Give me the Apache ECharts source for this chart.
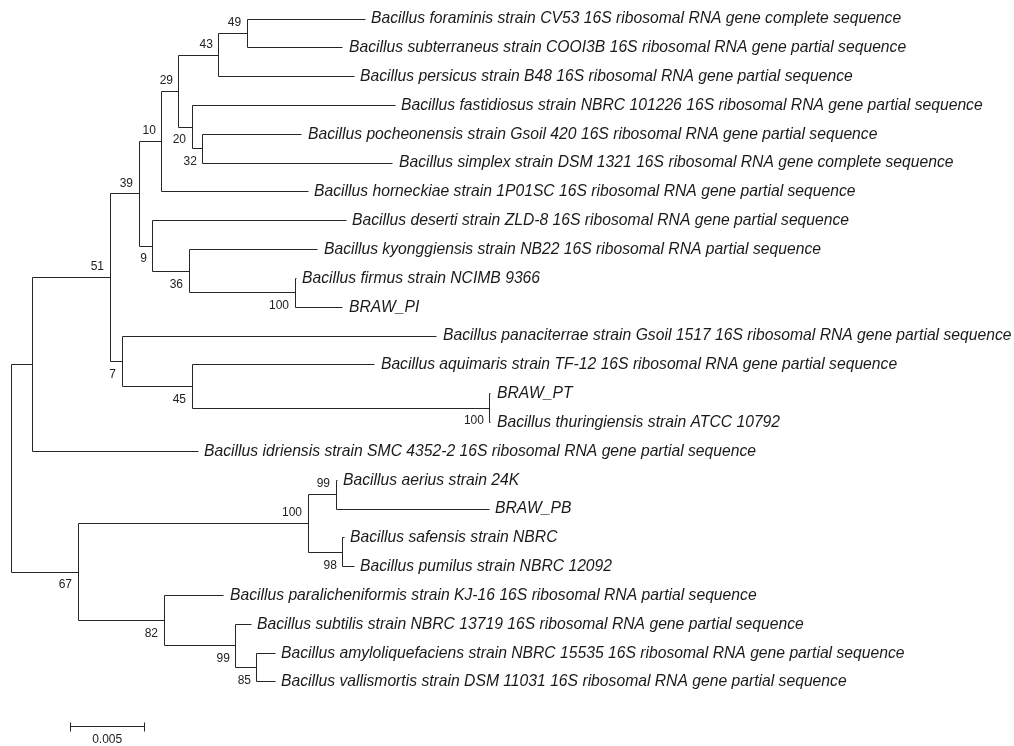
<!DOCTYPE html>
<html>
<head>
<meta charset="utf-8">
<title>Phylogenetic tree</title>
<script src="https://cdn.jsdelivr.net/npm/echarts@6/dist/echarts.min.js"></script>
<style>
html,body{margin:0;padding:0;background:#fff;}
#chart{width:1014px;height:746px;}
</style>
</head>
<body>
<div id="chart"></div>
<script>
// leaf labels, top to bottom
var leafNames = [
  'Bacillus foraminis strain CV53 16S ribosomal RNA gene complete sequence',
  'Bacillus subterraneus strain COOI3B 16S ribosomal RNA gene partial sequence',
  'Bacillus persicus strain B48 16S ribosomal RNA gene partial sequence',
  'Bacillus fastidiosus strain NBRC 101226 16S ribosomal RNA gene partial sequence',
  'Bacillus pocheonensis strain Gsoil 420 16S ribosomal RNA gene partial sequence',
  'Bacillus simplex strain DSM 1321 16S ribosomal RNA gene complete sequence',
  'Bacillus horneckiae strain 1P01SC 16S ribosomal RNA gene partial sequence',
  'Bacillus deserti strain ZLD-8 16S ribosomal RNA gene partial sequence',
  'Bacillus kyonggiensis strain NB22 16S ribosomal RNA partial sequence',
  'Bacillus firmus strain NCIMB 9366',
  'BRAW_PI',
  'Bacillus panaciterrae strain Gsoil 1517 16S ribosomal RNA gene partial sequence',
  'Bacillus aquimaris strain TF-12 16S ribosomal RNA gene partial sequence',
  'BRAW_PT',
  'Bacillus thuringiensis strain ATCC 10792',
  'Bacillus idriensis strain SMC 4352-2 16S ribosomal RNA gene partial sequence',
  'Bacillus aerius strain 24K',
  'BRAW_PB',
  'Bacillus safensis strain NBRC',
  'Bacillus pumilus strain NBRC 12092',
  'Bacillus paralicheniformis strain KJ-16 16S ribosomal RNA partial sequence',
  'Bacillus subtilis strain NBRC 13719 16S ribosomal RNA gene partial sequence',
  'Bacillus amyloliquefaciens strain NBRC 15535 16S ribosomal RNA gene partial sequence',
  'Bacillus vallismortis strain DSM 11031 16S ribosomal RNA gene partial sequence'
];
// distance from root to each tip
var leafDepth = [
  0.02392, 0.02243, 0.02318, 0.02595, 0.01966, 0.02581, 0.02007, 0.02264,
  0.02074, 0.01926, 0.02243, 0.02878, 0.02459, 0.03243, 0.03243, 0.01264,
  0.02203, 0.0323, 0.0225, 0.02318, 0.01439, 0.01622, 0.01784, 0.01784
];
// internal nodes: distance from root, children (L = leaf, N = node), bootstrap
var nodeDepth = [
  0, 0.00142, 0.00669, 0.00865, 0.0102, 0.01135, 0.01405, 0.01595,
  0.01223, 0.01297, 0.00959, 0.01203, 0.01919, 0.0075, 0.01223, 0.03236,
  0.00453, 0.02007, 0.02196, 0.02243, 0.01034, 0.0152, 0.01662
];
var nodeKids = [
  ['N1','N16'], ['N2','L15'], ['N3','N13'], ['N4','N10'], ['N5','L6'], ['N6','N8'],
  ['N7','L2'], ['L0','L1'], ['L3','N9'], ['L4','L5'], ['L7','N11'], ['L8','N12'],
  ['L9','L10'], ['L11','N14'], ['L12','N15'], ['L13','L14'], ['N17','N20'],
  ['N18','N19'], ['L16','L17'], ['L18','L19'], ['L20','N21'], ['L21','N22'], ['L22','L23']
];
var nodeSupport = [
  '', '', '51', '39', '10', '29', '43', '49', '20', '32', '9', '36',
  '100', '7', '45', '100', '67', '100', '99', '98', '82', '99', '85'
];
var scaleLen = 0.005;

function refIdx(r) { return +r.slice(1); }
function refDepth(r) { return r[0] == 'L' ? leafDepth[refIdx(r)] : nodeDepth[refIdx(r)]; }
function refY(r) {
  if (r[0] == 'L') return refIdx(r);
  var k = nodeKids[refIdx(r)];
  return (refY(k[0]) + refY(k[1])) / 2;
}
// is node the lower child of its parent
var isLower = nodeDepth.map(function () { return 0; });
nodeKids.forEach(function (k) {
  if (k[1][0] == 'N') isLower[refIdx(k[1])] = 1;
});

var nodeData = nodeDepth.map(function (d, i) {
  var k = nodeKids[i];
  return [d, refY(k[0]), refY(k[1]), refDepth(k[0]), refDepth(k[1]), refY('N' + i), isLower[i]];
});
var leafData = leafDepth.map(function (d, i) { return [d, i]; });

function s(v) { return Math.floor(v) + 0.5; }
var lineCol = '#262626';

var chart = echarts.init(document.getElementById('chart'));
chart.setOption({
  animation: false,
  backgroundColor: '#fff',
  grid: { left: 11, top: 19, width: 888, height: 720.65 },
  xAxis: { type: 'value', min: 0, max: 0.06, show: false },
  yAxis: { type: 'value', min: 0, max: 25, inverse: true, show: false },
  series: [
    {
      type: 'custom',
      data: nodeData,
      encode: { x: [0, 3, 4], y: [1, 2] },
      renderItem: function (params, api) {
        var i = params.dataIndex;
        var a = api.coord([api.value(3), api.value(1)]);
        var b = api.coord([api.value(0), api.value(1)]);
        var c = api.coord([api.value(0), api.value(2)]);
        var d = api.coord([api.value(4), api.value(2)]);
        var m = api.coord([api.value(0), api.value(5)]);
        var kids = [{
          type: 'polyline',
          shape: { points: [[s(a[0]), s(a[1])], [s(b[0]), s(b[1])], [s(c[0]), s(c[1])], [s(d[0]), s(d[1])]] },
          style: { fill: 'none', stroke: lineCol, lineWidth: 1 }
        }];
        if (nodeSupport[i]) {
          kids.push({
            type: 'text',
            x: m[0] - 6,
            y: m[1] + (api.value(6) ? 13 : -10.5),
            style: { text: nodeSupport[i], align: 'right', verticalAlign: 'middle', font: '12px "Liberation Sans"', fill: '#222' }
          });
        }
        return { type: 'group', children: kids };
      }
    },
    {
      type: 'custom',
      data: leafData,
      encode: { x: 0, y: 1 },
      renderItem: function (params, api) {
        var p = api.coord([api.value(0), api.value(1)]);
        return {
          type: 'text',
          x: p[0] + 6,
          y: p[1],
          style: { text: leafNames[params.dataIndex], align: 'left', verticalAlign: 'middle', font: 'italic 15.7px "Liberation Sans"', fill: '#1a1a1a' }
        };
      }
    },
    {
      type: 'custom',
      data: [[0.004, 24.53, 0.004 + scaleLen]],
      encode: { x: [0, 2], y: 1 },
      renderItem: function (params, api) {
        var a = api.coord([api.value(0), api.value(1)]);
        var b = api.coord([api.value(2), api.value(1)]);
        var y = s(a[1]);
        return {
          type: 'group',
          children: [
            { type: 'polyline', shape: { points: [[s(a[0]), y], [s(b[0]), y]] }, style: { fill: 'none', stroke: lineCol, lineWidth: 1 } },
            { type: 'polyline', shape: { points: [[s(a[0]), y - 4], [s(a[0]), y + 5]] }, style: { fill: 'none', stroke: lineCol, lineWidth: 1 } },
            { type: 'polyline', shape: { points: [[s(b[0]), y - 4], [s(b[0]), y + 5]] }, style: { fill: 'none', stroke: lineCol, lineWidth: 1 } },
            {
              type: 'text', x: (a[0] + b[0]) / 2, y: y + 13,
              style: { text: scaleLen.toString(), align: 'center', verticalAlign: 'middle', font: '12px "Liberation Sans"', fill: '#222' }
            }
          ]
        };
      }
    }
  ]
});
</script>
</body>
</html>
